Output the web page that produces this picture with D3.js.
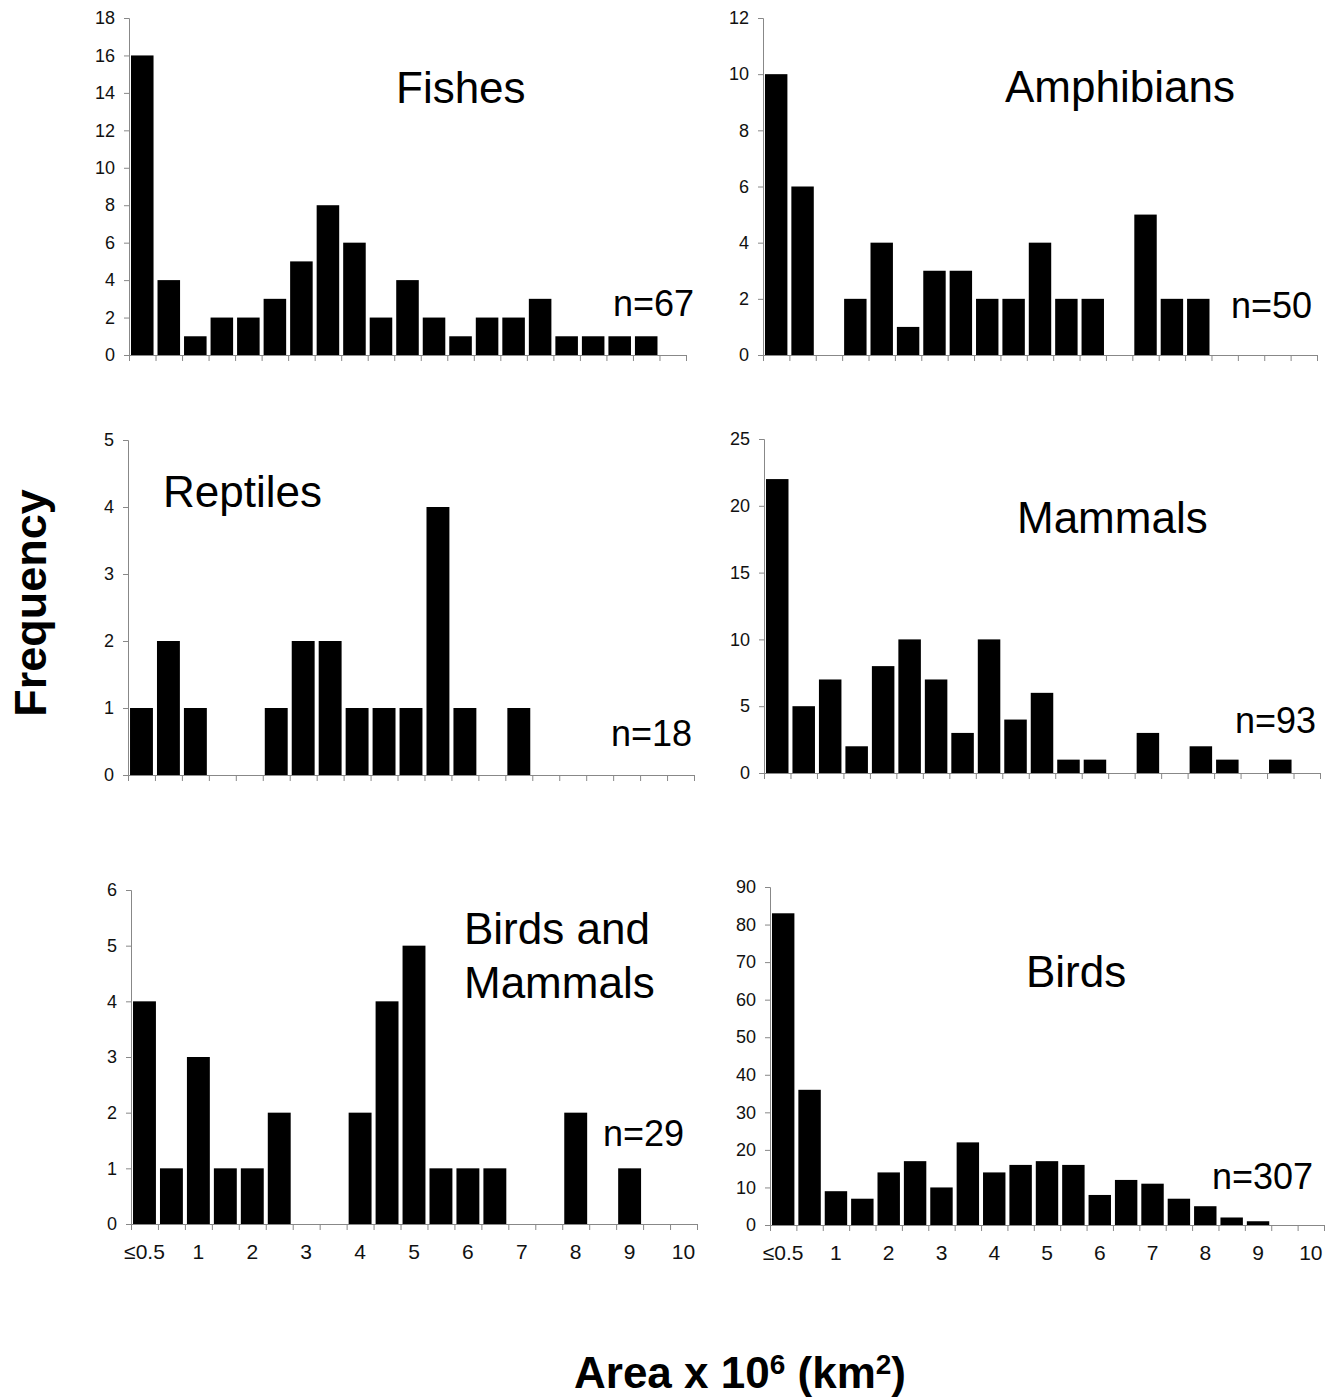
<!DOCTYPE html>
<html>
<head>
<meta charset="utf-8">
<script src="https://cdn.jsdelivr.net/npm/d3@7"></script>
<style>
  body { margin: 0; background: #fff; }
  text { font-family: "Liberation Sans", Arial, sans-serif; }
</style>
</head>
<body>
<div id="chart"></div>
<script>
// bins of 0.5 x 10^6 km2
var bins = ["≤0.5", "0.75", "1", "1.5", "2", "2.5", "3", "3.5", "4", "4.5", "5",
            "5.5", "6", "6.5", "7", "7.5", "8", "8.5", "9", "9.5", "10"];
var binLabels = ["≤0.5", "", "1", "", "2", "", "3", "", "4", "", "5",
                 "", "6", "", "7", "", "8", "", "9", "", "10"];

var fishes       = [16, 4, 1, 2, 2, 3, 5, 8, 6, 2, 4, 2, 1, 2, 2, 3, 1, 1, 1, 1, 0];
var amphibians   = [10, 6, 0, 2, 4, 1, 3, 3, 2, 2, 4, 2, 2, 0, 5, 2, 2, 0, 0, 0, 0];
var reptiles     = [1, 2, 1, 0, 0, 1, 2, 2, 1, 1, 1, 4, 1, 0, 1, 0, 0, 0, 0, 0, 0];
var mammals      = [22, 5, 7, 2, 8, 10, 7, 3, 10, 4, 6, 1, 1, 0, 3, 0, 2, 1, 0, 1, 0];
var birdsMammals = [4, 1, 3, 1, 1, 2, 0, 0, 2, 4, 5, 1, 1, 1, 0, 0, 2, 0, 1, 0, 0];
var birds        = [83, 36, 9, 7, 14, 17, 10, 22, 14, 16, 17, 16, 8, 12, 11, 7, 5, 2, 1, 0, 0];

var width = 1331,
    height = 1398;

var svg = d3.select("#chart")
    .append("svg")
    .attr("width", width)
    .attr("height", height);

// one histogram per panel
function panel(values, opt) {
  var x = d3.scaleBand()
      .domain(bins)
      .range([opt.x0, opt.x1])
      .paddingInner(0.15)
      .paddingOuter(0.075);

  var y = d3.scaleLinear()
      .domain([0, opt.ymax])
      .range([opt.y0, opt.ytop]);

  var g = svg.append("g");

  g.selectAll("rect")
      .data(values)
      .enter()
      .append("rect")
      .attr("x", (d, i) => x(bins[i]))
      .attr("width", x.bandwidth())
      .attr("y", d => y(d))
      .attr("height", d => y(0) - y(d))
      .style("fill", "#000")
      .style("display", d => d > 0 ? null : "none");

  // y axis
  var ya = g.append("g")
      .attr("transform", "translate(" + opt.x0 + ",0)")
      .call(d3.axisLeft(y)
          .tickValues(d3.range(0, opt.ymax + 1, opt.step))
          .tickFormat(d3.format("d"))
          .tickSize(5)
          .tickPadding(9));

  // x axis: ticks at bin edges
  var edges = d3.scaleLinear().domain([0, bins.length]).range([opt.x0, opt.x1]);
  var xa = g.append("g")
      .attr("transform", "translate(0," + opt.y0 + ")")
      .call(d3.axisBottom(edges).tickValues(d3.range(0, bins.length + 1)).tickSize(6).tickFormat(""));

  [ya, xa].forEach(a => {
    a.select(".domain").attr("stroke", "#888");
    a.selectAll(".tick line").attr("stroke", "#888");
    a.selectAll("text").style("font-size", "18px").attr("fill", "#111");
  });

  if (opt.labels) {
    g.append("g")
        .attr("transform", "translate(0," + opt.y0 + ")")
        .call(d3.axisBottom(x).tickSize(0).tickPadding(20).tickFormat((d, i) => binLabels[i]))
        .call(a => a.select(".domain").remove())
        .selectAll("text")
        .style("font-size", "21px")
        .attr("fill", "#111");
  }

  var title = g.append("text")
      .attr("x", opt.tx)
      .attr("y", opt.ty)
      .style("font-size", "44px");
  opt.title.forEach((t, i) => {
    title.append("tspan").attr("x", opt.tx).attr("dy", i ? 54 : 0).text(t);
  });

  g.append("text")
      .attr("x", opt.nx)
      .attr("y", opt.ny)
      .style("font-size", "36px")
      .text("n=" + d3.sum(values));
}

panel(fishes,       {x0: 129, x1: 686, y0: 355, ytop: 18, ymax: 18, step: 2, title: ["Fishes"], tx: 396, ty: 103, nx: 613, ny: 316});
panel(amphibians,   {x0: 763, x1: 1317, y0: 355, ytop: 18, ymax: 12, step: 2, title: ["Amphibians"], tx: 1005, ty: 102, nx: 1231, ny: 318});
panel(reptiles,     {x0: 128, x1: 694, y0: 775, ytop: 440, ymax: 5, step: 1, title: ["Reptiles"], tx: 163, ty: 507, nx: 611, ny: 746});
panel(mammals,      {x0: 764, x1: 1320, y0: 773, ytop: 439, ymax: 25, step: 5, title: ["Mammals"], tx: 1017, ty: 533, nx: 1235, ny: 733});
panel(birdsMammals, {x0: 131, x1: 697, y0: 1224, ytop: 890, ymax: 6, step: 1, title: ["Birds and", "Mammals"], tx: 464, ty: 944, nx: 603, ny: 1146, labels: true});
panel(birds,        {x0: 770, x1: 1324, y0: 1225, ytop: 887, ymax: 90, step: 10, title: ["Birds"], tx: 1026, ty: 987, nx: 1212, ny: 1189, labels: true});

// shared axis titles
svg.append("text")
    .attr("transform", "translate(46,603) rotate(-90)")
    .attr("text-anchor", "middle")
    .style("font-size", "45px")
    .style("font-weight", "bold")
    .text("Frequency");

var xt = svg.append("text")
    .attr("x", 740)
    .attr("y", 1388)
    .attr("text-anchor", "middle")
    .style("font-size", "44px")
    .style("font-weight", "bold");
xt.append("tspan").text("Area x 10");
xt.append("tspan").attr("dy", -14).style("font-size", "28px").text("6");
xt.append("tspan").attr("dy", 14).text(" (km");
xt.append("tspan").attr("dy", -14).style("font-size", "28px").text("2");
xt.append("tspan").attr("dy", 14).text(")");
</script>
</body>
</html>
